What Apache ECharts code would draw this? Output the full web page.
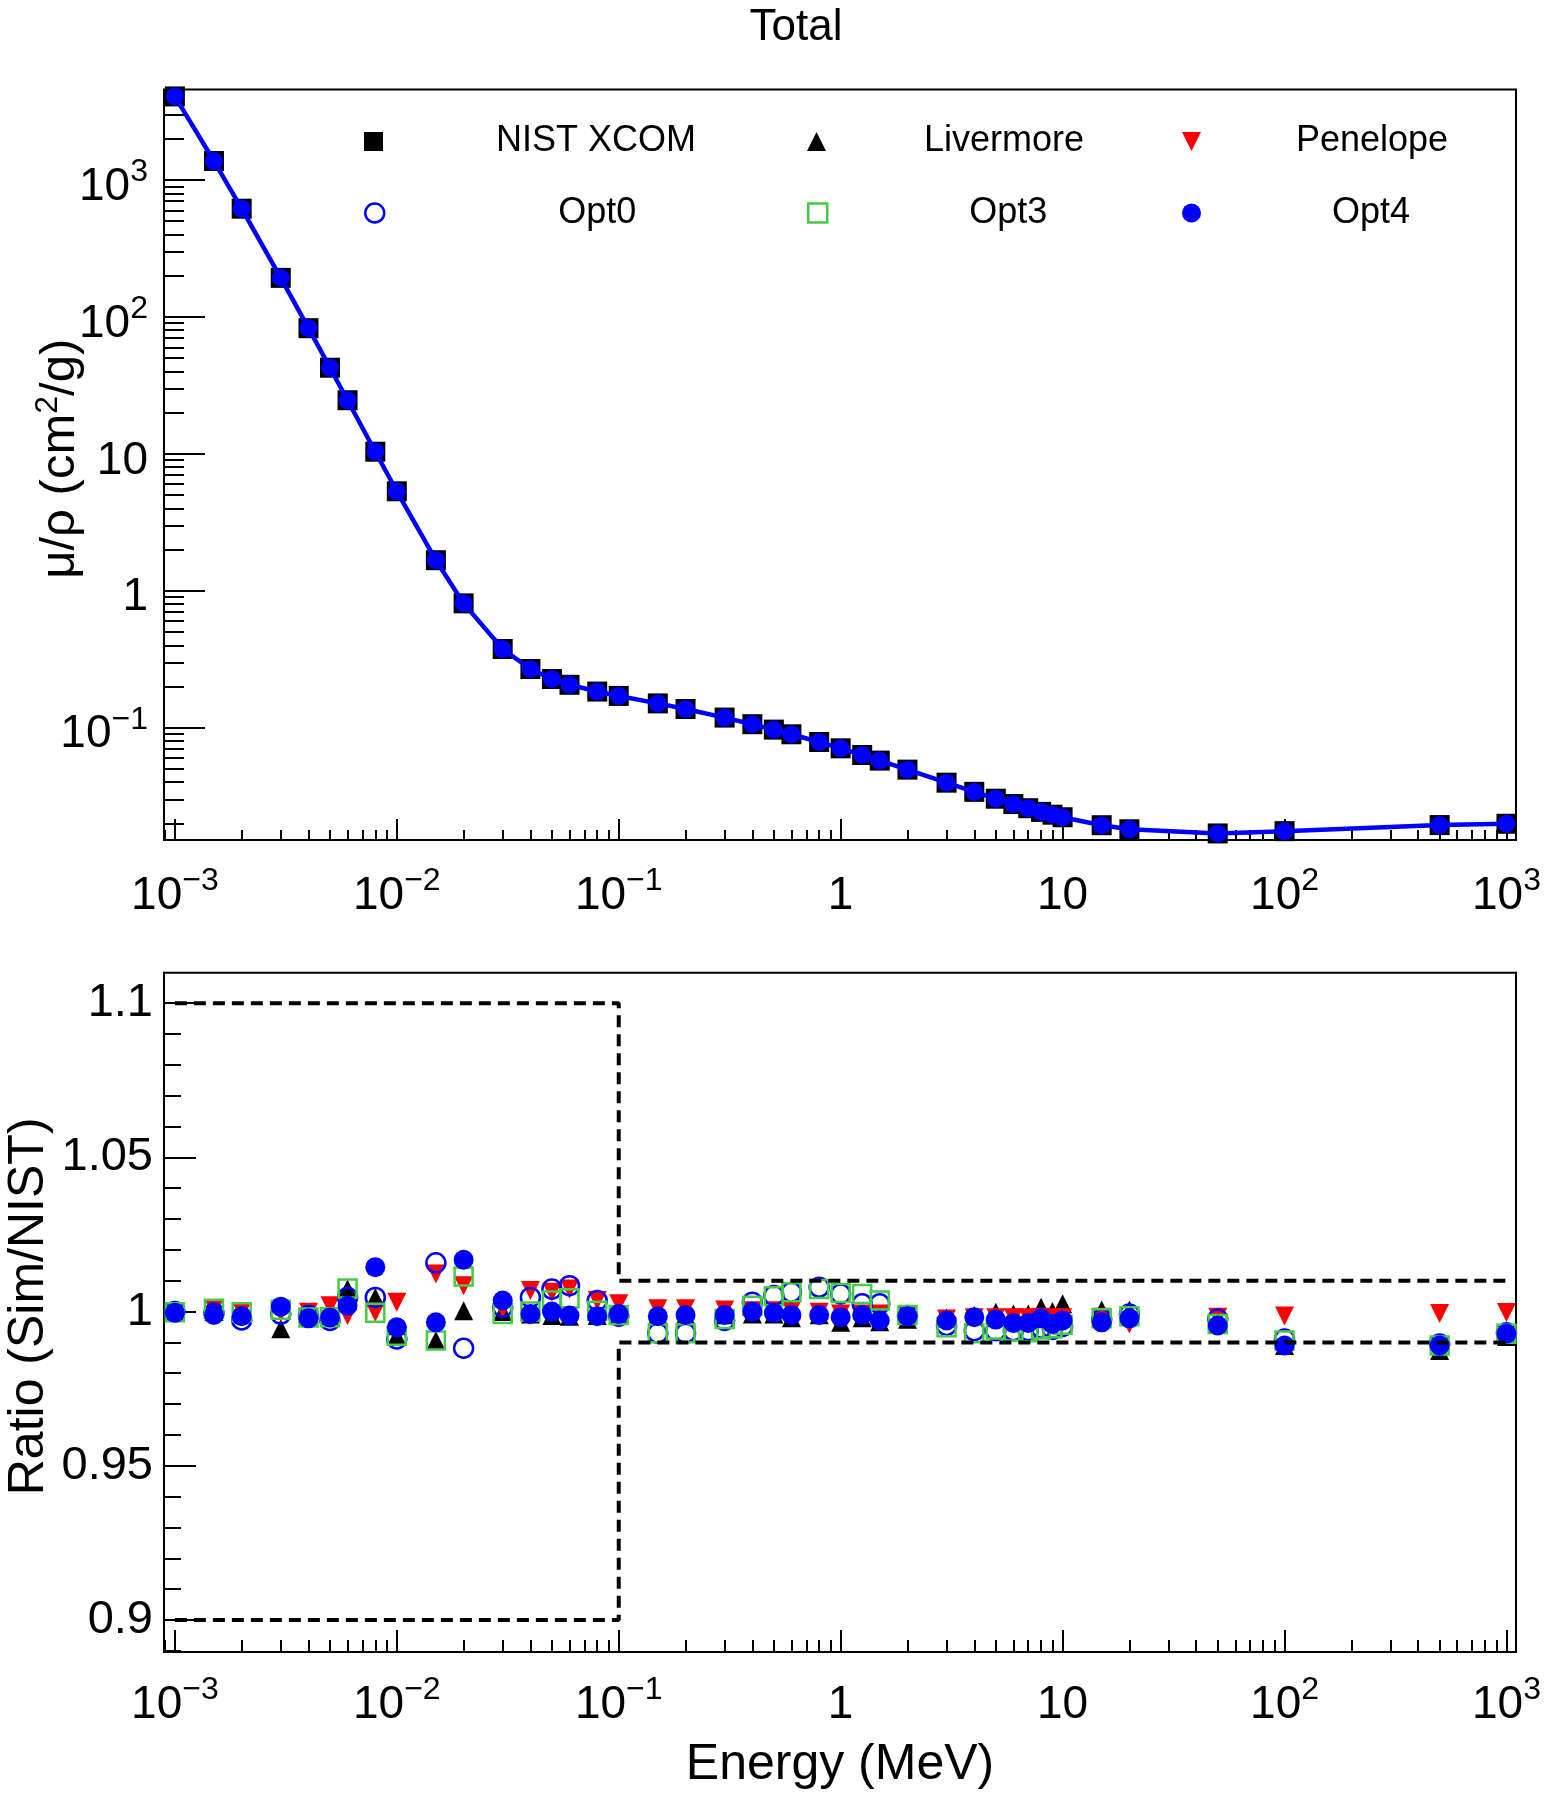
<!DOCTYPE html>
<html><head><meta charset="utf-8">
<script src="https://cdn.jsdelivr.net/npm/echarts/dist/echarts.min.js"></script>
<style>html,body{margin:0;padding:0;background:#fff}#c{width:1553px;height:1800px}</style>
</head><body><div id="c"></div><script>
// ---------- data ----------
const energy = [0.001,0.0015,0.002,0.003,0.004,0.005,0.006,0.008,0.01,0.015,0.02,0.03,0.04,0.05,0.06,0.08,0.1,0.15,0.2,0.3,0.4,0.5,0.6,0.8,1,1.25,1.5,2,3,4,5,6,7,8,9,10,15,20,50,100,500,1000];
const nistXcom = [4078,1376,617.3,192.9,82.78,42.58,24.64,10.37,5.329,1.673,0.8096,0.3756,0.2683,0.2269,0.2059,0.1837,0.1707,0.1505,0.1370,0.1186,0.1061,0.09687,0.08956,0.07865,0.07072,0.06323,0.05754,0.04942,0.03969,0.03403,0.03031,0.02770,0.02584,0.02429,0.02316,0.02219,0.01941,0.01813,0.01690,0.01756,0.01946,0.01989];
const ratioLivermore = [1.000,1.000,0.9998,0.9944,0.999,0.9985,1.0073,1.0046,0.9922,0.9906,1.0003,1.0000,0.9992,0.9987,0.9985,0.9987,0.999,0.999,0.999,0.999,0.9992,0.9992,0.998,0.999,0.9965,0.998,0.9967,0.9975,0.998,0.9987,0.9998,0.9992,0.9992,1.0014,1.0,1.0025,1.0005,1.0005,0.996,0.989,0.9874,0.9919];
const ratioPenelope = [1.0,1.0009,1.0,0.9998,0.9998,1.0019,0.9987,0.9998,1.003,1.0122,1.0084,1.0009,1.0068,1.0063,1.0073,1.0036,1.0025,1.0009,1.0009,1.0005,1.0003,1.0003,1.0003,0.9998,0.9992,0.9992,0.9992,0.9987,0.9976,0.998,0.998,0.998,0.998,0.9982,0.998,0.998,0.9982,0.996,0.9982,0.9986,0.9994,0.9997];
const ratioOpt0 = [1.0,0.9995,0.9973,0.9992,0.9987,0.9971,1.0046,1.0046,0.9911,1.0158,0.9881,1.0014,1.0046,1.0073,1.0084,1.0036,0.9985,0.993,0.993,0.9971,1.003,1.0052,1.0063,1.0079,1.0057,1.0025,1.0025,0.9987,0.9955,0.9938,0.9938,0.9938,0.9938,0.9946,0.9942,0.9952,0.9976,0.9992,0.9976,0.9911,0.9895,0.9931];
const ratioOpt3 = [0.9998,1.0009,0.9998,1.0006,0.9981,0.9982,1.0075,0.9996,0.9922,0.9906,1.0114,0.9992,1.0,1.0036,1.0043,1.0003,0.9989,0.993,0.993,0.9976,1.0019,1.005,1.0063,1.0073,1.006,1.0057,1.0036,0.9989,0.9949,0.993,0.9942,0.9935,0.9933,0.9942,0.9946,0.9957,0.9978,0.9985,0.996,0.9906,0.989,0.9928];
const ratioOpt4 = [0.9996,0.9989,0.9985,1.0016,0.9978,0.9981,1.0019,1.0144,0.9949,0.9965,1.0168,1.0036,0.9992,1.0,0.9987,0.9985,0.9992,0.9985,0.9989,0.9989,1.0,0.9996,0.9989,0.9989,0.9982,0.9989,0.9971,0.9985,0.9971,0.9982,0.9974,0.9963,0.9963,0.9978,0.996,0.9971,0.9965,0.9978,0.9955,0.989,0.989,0.9928];
const tolEnergy = [0.001,0.1,0.1,1000];
const tolUpper = [1.1,1.1,1.01,1.01];
const tolLower = [0.9,0.9,0.99,0.99];
const xTickValues = [0.001,0.01,0.1,1,10,100,1000];
const yTopTickValues = [0.1,1,10,100,1000];
const yRatioTickValues = [0.9,0.95,1,1.05,1.1];
const seriesNames = ['NIST XCOM','Livermore','Penelope','Opt0','Opt3','Opt4'];

// ---------- helpers ----------
const FONT = 'Liberation Sans, Arial, Helvetica, sans-serif';
const BLUE = '#0000ff', RED = '#ff0000', GREEN = '#44cc44', BLACK = '#000000';
const pair = (xs, ys) => xs.map((x, i) => [x, ys[i]]);
function logMinor(lo, hi) {
  const out = [];
  for (let d = -4; d <= 4; d++) for (let k = 2; k <= 9; k++) {
    const v = k * Math.pow(10, d);
    if (v > lo && v < hi) out.push(+v.toPrecision(6));
  }
  return out;
}
function logLabel(v) {
  const e = Math.round(Math.log10(v));
  if (e === 0) return '{b|1}';
  if (e === 1) return '{b|10}';
  return '{b|10}{s|' + (e < 0 ? '\u2212' : '') + Math.abs(e) + '}';
}
const labelRich = {
  b: {fontSize: 46, lineHeight: 62, fontFamily: FONT, color: BLACK},
  s: {fontSize: 32, lineHeight: 32, fontFamily: FONT, color: BLACK, verticalAlign: 'top'}
};
const X_MIN = Math.pow(10, -3.049), X_MAX = Math.pow(10, 3.043);
const YT_MIN = Math.pow(10, -1.820), YT_MAX = Math.pow(10, 3.661);
const YR_MIN = 0.8896, YR_MAX = 1.1099;
const ratioMinor = [];
for (let i = 89; i <= 111; i++) { if (i % 5 !== 0) ratioMinor.push(i / 100); }

const noLine = {show: false};
function xAxes(gridIndex, majorLen, minorLen, margin, name) {
  return [
    {type: 'log', gridIndex, min: X_MIN, max: X_MAX, position: 'bottom',
     axisLine: noLine, splitLine: {show: false},
     axisTick: {show: true, inside: true, length: majorLen, customValues: xTickValues, lineStyle: {color: BLACK, width: 2}},
     axisLabel: {show: true, customValues: xTickValues, margin, formatter: logLabel, rich: labelRich},
     name: name || '', nameLocation: 'middle', nameGap: 88,
     nameTextStyle: {fontSize: 50, fontFamily: FONT, color: BLACK}},
    {type: 'log', gridIndex, min: X_MIN, max: X_MAX, position: 'bottom',
     axisLine: noLine, splitLine: {show: false}, axisLabel: {show: false},
     axisTick: {show: true, inside: true, length: minorLen, customValues: logMinor(X_MIN, X_MAX), lineStyle: {color: BLACK, width: 2}}}
  ];
}

const LSHIFT = 6;
const legendDefs = [
  {name: 'NIST XCOM', x: 373, y: 138.5, pad: 108, icon: 'rect', style: {color: BLACK, opacity: 1}},
  {name: 'Livermore', x: 816, y: 138.5, pad: 93, icon: 'triangle', style: {color: BLACK, opacity: 1}},
  {name: 'Penelope', x: 1191, y: 138.5, pad: 90, icon: 'path://M0,0L2,0L1,2Z', style: {color: RED, opacity: 1}},
  {name: 'Opt0', x: 373, y: 210, pad: 169, icon: 'circle', style: {color: 'rgba(0,0,0,0)', borderColor: BLUE, borderWidth: 2.5, opacity: 1}},
  {name: 'Opt3', x: 816, y: 210, pad: 137, icon: 'rect', style: {color: 'rgba(0,0,0,0)', borderColor: GREEN, borderWidth: 2.5, opacity: 1}},
  {name: 'Opt4', x: 1191, y: 210, pad: 126, icon: 'circle', style: {color: BLUE, opacity: 1}}
];

const ratioSeries = (name, data, symbol, size, itemStyle) => ({
  type: 'scatter', name, xAxisIndex: 2, yAxisIndex: 2, data: pair(energy, data),
  symbol, symbolSize: size, itemStyle: Object.assign({opacity: 1}, itemStyle), clip: false, z: 3
});

const option = {
  backgroundColor: '#ffffff',
  animation: false,
  title: {text: 'Total', left: 796, top: 6, textAlign: 'center', padding: 0,
          textStyle: {fontSize: 44, fontWeight: 'normal', fontFamily: FONT, color: BLACK}},
  grid: [
    {left: 164, top: 89.5, width: 1352, height: 750.5, show: true, borderColor: BLACK, borderWidth: 2, backgroundColor: 'rgba(0,0,0,0)', containLabel: false, outerBoundsMode: 'none'},
    {left: 164, top: 972.7, width: 1352, height: 679.3, show: true, borderColor: BLACK, borderWidth: 2, backgroundColor: 'rgba(0,0,0,0)', containLabel: false, outerBoundsMode: 'none'}
  ],
  legend: legendDefs.map(d => ({
    data: [{name: d.name, icon: d.icon, itemStyle: d.style}],
    left: d.x - 9, top: d.y - 9 - LSHIFT, itemWidth: 19, itemHeight: 19, padding: 0, itemGap: 0,
    selectedMode: false,
    textStyle: {fontSize: 36, fontFamily: FONT, color: BLACK, padding: [0, 0, 0, d.pad]}
  })),
  xAxis: [...xAxes(0, 21, 10, 25, ''), ...xAxes(1, 22, 12, 22, 'Energy (MeV)')],
  yAxis: [
    {type: 'log', gridIndex: 0, min: YT_MIN, max: YT_MAX, position: 'left',
     axisLine: noLine, splitLine: {show: false},
     axisTick: {show: true, inside: true, length: 41, customValues: yTopTickValues, lineStyle: {color: BLACK, width: 2}},
     axisLabel: {show: true, customValues: yTopTickValues, margin: 16, padding: [14, 0, 0, 0], formatter: logLabel, rich: labelRich},
     name: 'μ/ρ (cm{s|2}/g)', nameLocation: 'middle', nameRotate: 90, nameGap: 76, nameMoveOverlap: false,
     nameTextStyle: {fontSize: 49, fontFamily: FONT, color: BLACK, lineHeight: 56, padding: [0, 0, 0, 12],
       rich: {s: {fontSize: 32, lineHeight: 32, fontFamily: FONT, color: BLACK, verticalAlign: 'top'}}}},
    {type: 'log', gridIndex: 0, min: YT_MIN, max: YT_MAX, position: 'left',
     axisLine: noLine, splitLine: {show: false}, axisLabel: {show: false},
     axisTick: {show: true, inside: true, length: 20, customValues: logMinor(YT_MIN, YT_MAX), lineStyle: {color: BLACK, width: 2}}},
    {type: 'value', gridIndex: 1, min: YR_MIN, max: YR_MAX, position: 'left',
     axisLine: noLine, splitLine: {show: false},
     axisTick: {show: true, inside: true, length: 32, customValues: yRatioTickValues, lineStyle: {color: BLACK, width: 2}},
     axisLabel: {show: true, customValues: yRatioTickValues, margin: 11, padding: [10, 0, 0, 0], fontSize: 47, fontFamily: FONT, color: BLACK,
       formatter: v => String(+v.toFixed(2))},
     name: 'Ratio (Sim/NIST)', nameLocation: 'middle', nameRotate: 90, nameGap: 110, nameMoveOverlap: false,
     nameTextStyle: {fontSize: 50, fontFamily: FONT, color: BLACK, padding: [0, 0, 0, 12]}},
    {type: 'value', gridIndex: 1, min: YR_MIN, max: YR_MAX, position: 'left',
     axisLine: noLine, splitLine: {show: false}, axisLabel: {show: false},
     axisTick: {show: true, inside: true, length: 17, customValues: ratioMinor, lineStyle: {color: BLACK, width: 2}}}
  ],
  series: [
    {type: 'scatter', name: 'NIST XCOM', xAxisIndex: 0, yAxisIndex: 0, data: pair(energy, nistXcom),
     symbol: 'rect', symbolSize: 20, itemStyle: {color: BLACK, opacity: 1}, clip: false, z: 2},
    {type: 'line', name: 'Opt4', xAxisIndex: 0, yAxisIndex: 0, data: pair(energy, nistXcom),
     symbol: 'circle', symbolSize: 18, showAllSymbol: true, lineStyle: {color: BLUE, width: 4.5},
     itemStyle: {color: BLUE, opacity: 1}, clip: false, z: 3},
    ratioSeries('Livermore', ratioLivermore, 'triangle', 19, {color: BLACK}),
    ratioSeries('Penelope', ratioPenelope, 'path://M0,0L2,0L1,2Z', 19, {color: RED}),
    ratioSeries('Opt0', ratioOpt0, 'circle', 19, {color: 'rgba(0,0,0,0)', borderColor: BLUE, borderWidth: 2.5}),
    ratioSeries('Opt3', ratioOpt3, 'rect', 18, {color: 'rgba(0,0,0,0)', borderColor: GREEN, borderWidth: 2.5}),
    ratioSeries('Opt4', ratioOpt4, 'circle', 20, {color: BLUE}),
    {type: 'line', name: 'upper limit', xAxisIndex: 2, yAxisIndex: 2, data: pair(tolEnergy, tolUpper),
     symbol: 'none', lineStyle: {color: BLACK, width: 4, type: [12, 7]}, silent: true, z: 5, clip: false},
    {type: 'line', name: 'lower limit', xAxisIndex: 2, yAxisIndex: 2, data: pair(tolEnergy, tolLower),
     symbol: 'none', lineStyle: {color: BLACK, width: 4, type: [12, 7]}, silent: true, z: 5, clip: false}
  ]
};
const chart = echarts.init(document.getElementById('c'), null, {renderer: 'canvas'});
chart.setOption(option);
</script></body></html>
